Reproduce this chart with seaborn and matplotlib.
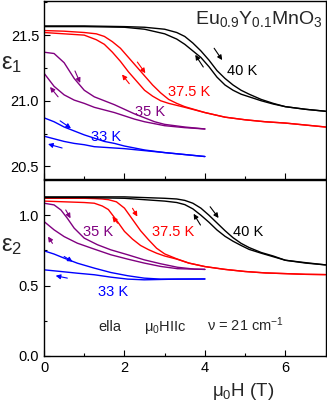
import numpy as np
import pandas as pd
import seaborn as sns
import matplotlib.pyplot as plt
from matplotlib.ticker import MultipleLocator

# ---- data (field in T) ----
temps = ["33 K", "35 K", "37.5 K", "40 K"]
colors = {"33 K": "#0000ff", "35 K": "#800080", "37.5 K": "#ff0000", "40 K": "#000000"}

# eps1, 40 K
h_40 = [0, 1, 2, 2.5, 3.0, 3.3, 3.5, 3.7, 3.9, 4.1, 4.3, 4.5, 4.7, 4.9, 5.1, 5.4, 5.7, 6.0, 6.5, 7.0]
e1_40_up = [21.57, 21.57, 21.565, 21.56, 21.545, 21.52, 21.49, 21.44, 21.38, 21.31, 21.23, 21.17, 21.12, 21.08, 21.05, 21.01, 20.98, 20.955, 20.935, 20.92]
e1_40_dn = [21.565, 21.565, 21.56, 21.545, 21.51, 21.47, 21.43, 21.38, 21.33, 21.26, 21.18, 21.12, 21.08, 21.05, 21.03, 21.0, 20.975, 20.955, 20.935, 20.92]
# eps1, 37.5 K
h_375 = [0, 0.5, 1.0, 1.3, 1.5, 1.7, 1.9, 2.1, 2.3, 2.5, 2.7, 2.9, 3.1, 3.3, 3.5, 4.0, 4.5, 5.0, 5.5, 6.0, 6.5, 7.0]
e1_375_up = [21.535, 21.53, 21.52, 21.51, 21.49, 21.45, 21.40, 21.33, 21.26, 21.19, 21.12, 21.06, 21.01, 20.98, 20.955, 20.91, 20.875, 20.855, 20.84, 20.83, 20.815, 20.80]
e1_375_dn = [21.52, 21.51, 21.50, 21.465, 21.43, 21.37, 21.30, 21.22, 21.15, 21.08, 21.035, 21.0, 20.98, 20.965, 20.95, 20.91, 20.875, 20.855, 20.84, 20.83, 20.815, 20.80]
# eps1, 35 K
h_35 = [0, 0.25, 0.5, 0.75, 1.0, 1.25, 1.5, 1.75, 2.0, 2.25, 2.5, 2.75, 3.0, 3.5, 4.0]
e1_35_up = [21.37, 21.36, 21.29, 21.17, 21.08, 21.03, 21.0, 20.97, 20.935, 20.90, 20.87, 20.84, 20.82, 20.80, 20.785]
e1_35_dn = [21.21, 21.11, 21.045, 21.005, 20.98, 20.95, 20.93, 20.91, 20.885, 20.86, 20.84, 20.825, 20.81, 20.795, 20.785]
# eps1, 33 K
h_33 = [0, 0.25, 0.5, 0.75, 1.0, 1.25, 1.5, 1.75, 2.0, 2.5, 3.0, 3.5, 4.0]
e1_33_up = [20.87, 20.84, 20.80, 20.77, 20.74, 20.715, 20.69, 20.675, 20.655, 20.625, 20.605, 20.59, 20.575]
e1_33_dn = [20.73, 20.71, 20.69, 20.675, 20.665, 20.65, 20.645, 20.64, 20.635, 20.62, 20.605, 20.59, 20.575]

# eps2
e2_40_up = [1.13, 1.13, 1.13, 1.125, 1.12, 1.115, 1.105, 1.085, 1.05, 1.0, 0.945, 0.89, 0.84, 0.80, 0.77, 0.735, 0.71, 0.68, 0.663, 0.647]
e2_40_dn = [1.125, 1.125, 1.12, 1.11, 1.10, 1.09, 1.075, 1.045, 1.0, 0.95, 0.895, 0.85, 0.815, 0.785, 0.757, 0.73, 0.705, 0.68, 0.66, 0.647]
h2_375 = [0, 0.5, 1.0, 1.25, 1.45, 1.6, 1.8, 2.0, 2.2, 2.4, 2.6, 2.8, 3.0, 3.3, 3.6, 4.0, 4.5, 5.0, 5.5, 6.0, 6.5, 7.0]
e2_375_up = [1.12, 1.12, 1.12, 1.118, 1.115, 1.11, 1.095, 1.05, 0.97, 0.89, 0.825, 0.765, 0.725, 0.69, 0.66, 0.635, 0.615, 0.60, 0.59, 0.585, 0.58, 0.578]
e2_375_dn = [1.10, 1.095, 1.09, 1.085, 1.065, 1.04, 0.965, 0.885, 0.83, 0.785, 0.755, 0.73, 0.71, 0.688, 0.66, 0.635, 0.615, 0.60, 0.59, 0.585, 0.58, 0.578]
h2_35_up = [0, 0.25, 0.42, 0.58, 0.75, 1.0, 1.33, 1.66, 2.08, 2.49, 2.9, 3.32, 3.74, 4.0]
e2_35_up = [1.085, 1.073, 1.037, 0.978, 0.908, 0.837, 0.79, 0.754, 0.719, 0.683, 0.655, 0.63, 0.617, 0.615]
h2_35_dn = [0, 0.25, 0.5, 0.83, 1.25, 1.66, 2.08, 2.49, 2.9, 3.32, 4.0]
e2_35_dn = [0.955, 0.896, 0.848, 0.801, 0.759, 0.719, 0.688, 0.66, 0.636, 0.62, 0.615]
h2_33_up = [0, 0.25, 0.5, 0.83, 1.25, 1.66, 2.08, 2.49, 2.9, 3.32, 4.0]
e2_33_up = [0.747, 0.724, 0.695, 0.659, 0.624, 0.593, 0.57, 0.553, 0.546, 0.546, 0.547]
h2_33_dn = [0, 0.42, 0.83, 1.25, 1.66, 2.08, 2.49, 3.32, 4.0]
e2_33_dn = [0.612, 0.60, 0.588, 0.577, 0.56, 0.546, 0.541, 0.546, 0.547]


def frame(curves):
    parts = []
    for T, sweep, h, e in curves:
        parts.append(pd.DataFrame({"H": h, "eps": e, "T": T, "sweep": sweep}))
    return pd.concat(parts, ignore_index=True)


df1 = frame([
    ("40 K", "up", h_40, e1_40_up), ("40 K", "down", h_40, e1_40_dn),
    ("37.5 K", "up", h_375, e1_375_up), ("37.5 K", "down", h_375, e1_375_dn),
    ("35 K", "up", h_35, e1_35_up), ("35 K", "down", h_35, e1_35_dn),
    ("33 K", "up", h_33, e1_33_up), ("33 K", "down", h_33, e1_33_dn),
])
df2 = frame([
    ("40 K", "up", h_40, e2_40_up), ("40 K", "down", h_40, e2_40_dn),
    ("37.5 K", "up", h2_375, e2_375_up), ("37.5 K", "down", h2_375, e2_375_dn),
    ("35 K", "up", h2_35_up, e2_35_up), ("35 K", "down", h2_35_dn, e2_35_dn),
    ("33 K", "up", h2_33_up, e2_33_up), ("33 K", "down", h2_33_dn, e2_33_dn),
])

sns.set_theme(style="ticks")
plt.rcParams["font.family"] = ["Liberation Sans", "DejaVu Sans"]
plt.rcParams["mathtext.fontset"] = "custom"
plt.rcParams["mathtext.rm"] = "Liberation Sans"
plt.rcParams["mathtext.it"] = "Liberation Sans:italic"
plt.rcParams["mathtext.default"] = "regular"

fig = plt.figure(figsize=(3.27, 4.05), dpi=100)
ax1 = fig.add_axes([0.1346, 0.5568, 0.861, 0.4407])
ax2 = fig.add_axes([0.1346, 0.1210, 0.861, 0.4346])

for ax, df in ((ax1, df1), (ax2, df2)):
    sns.lineplot(data=df, x="H", y="eps", hue="T", units="sweep", estimator=None,
                 sort=False, palette=colors, hue_order=temps, legend=False,
                 linewidth=1.0, ax=ax)
    ax.set_xlim(0, 7)
    ax.xaxis.set_major_locator(MultipleLocator(2))
    ax.xaxis.set_minor_locator(MultipleLocator(1))
    ax.tick_params(which="both", direction="in", top=False, right=False,
                   labelsize=10.5, width=0.8, colors="black")
    ax.tick_params(which="major", length=4.5)
    ax.tick_params(which="minor", length=2.5)
    ax.set_xlabel("")
    ax.set_ylabel("")
    for s in ax.spines.values():
        s.set_linewidth(1.0)
        s.set_color("black")

ax1.set_ylim(20.40, 21.76)
ax1.yaxis.set_major_locator(MultipleLocator(0.5))
ax1.yaxis.set_minor_locator(MultipleLocator(0.25))
ax1.set_yticks([20.5, 21.0, 21.5])
ax1.set_yticklabels(["20.5", "21.0", "21.5"])
ax1.tick_params(labelbottom=False)

ax2.set_ylim(0, 1.25)
ax2.yaxis.set_major_locator(MultipleLocator(0.5))
ax2.yaxis.set_minor_locator(MultipleLocator(0.25))
ax2.set_xticks([0, 2, 4, 6])

# labels on the curves
for ax, spots in (
    (ax1, [("40 K", 4.56, 21.227), ("37.5 K", 3.09, 21.067), ("35 K", 2.27, 20.915), ("33 K", 1.17, 20.725)]),
    (ax2, [("40 K", 4.71, 0.88), ("37.5 K", 2.69, 0.88), ("35 K", 0.97, 0.88), ("33 K", 1.35, 0.456)]),
):
    for T, x, y in spots:
        ax.text(x, y, T, color=colors[T], fontsize=10.5, ha="left", va="center")

# sweep direction arrows (tail -> head)
arrows1 = [
    ("40 K", (4.23, 21.40), (4.43, 21.31)), ("40 K", (3.96, 21.257), (3.76, 21.35)),
    ("37.5 K", (2.32, 21.295), (2.52, 21.21)), ("37.5 K", (2.12, 21.13), (1.94, 21.20)),
    ("35 K", (0.77, 21.227), (0.90, 21.136)), ("35 K", (0.35, 21.03), (0.15, 21.105)),
    ("33 K", (0.40, 20.847), (0.67, 20.79)), ("33 K", (0.45, 20.64), (0.10, 20.67)),
]
arrows2 = [
    ("40 K", (4.13, 1.06), (4.34, 0.98)), ("40 K", (3.89, 0.93), (3.72, 1.01)),
    ("37.5 K", (2.20, 1.049), (2.32, 0.99)), ("37.5 K", (1.83, 0.943), (1.70, 0.99)),
    ("35 K", (0.54, 1.037), (0.66, 0.978)), ("35 K", (0.21, 0.80), (0.10, 0.848)),
    ("33 K", (0.50, 0.707), (0.71, 0.67)), ("33 K", (0.58, 0.553), (0.29, 0.57)),
]
for ax, arrs in ((ax1, arrows1), (ax2, arrows2)):
    for T, tail, head in arrs:
        ax.annotate("", xy=head, xytext=tail,
                    arrowprops=dict(arrowstyle="-|>", color=colors[T], lw=0.8,
                                    mutation_scale=7, shrinkA=0, shrinkB=0))

ax1.text(0.99, 0.955, "Eu$_{0.9}$Y$_{0.1}$MnO$_{3}$", transform=ax1.transAxes,
         fontsize=14, ha="right", va="top")

ax2.text(1.35, 0.175, "ella", fontsize=10.5, va="baseline")
ax2.text(2.49, 0.175, "μ$_0$HIIc", fontsize=10.5, va="baseline")
ax2.text(4.06, 0.175, "ν = 21 cm$^{-1}$", fontsize=10.5, va="baseline")

fig.text(212 / 327, 1 - 392 / 405, "μ$_0$H (T)", fontsize=13.5, ha="left", va="center")
fig.text(1 / 327, 1 - 64 / 405, "ε$_1$", fontsize=17, ha="left", va="center")
fig.text(1 / 327, 1 - 246 / 405, "ε$_2$", fontsize=17, ha="left", va="center")

fig.savefig("out.png", dpi=100)
